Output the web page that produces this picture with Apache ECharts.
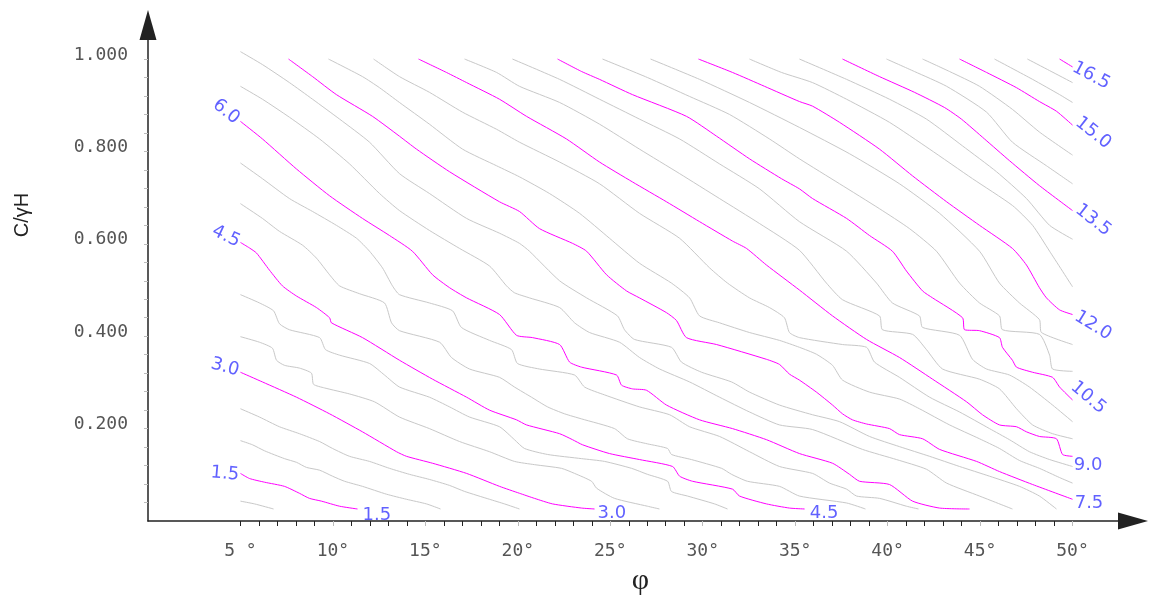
<!DOCTYPE html>
<html><head><meta charset="utf-8">
<script src="https://cdn.jsdelivr.net/npm/echarts@6/dist/echarts.min.js"></script>
<style>html,body{margin:0;padding:0;background:#fff}#c{width:1163px;height:601px}</style>
</head><body><div id="c"></div>
<script>
// contour levels (factor of safety); every third one is highlighted
const levels = [1.0,1.5,2.0,2.5,3.0,3.5,4.0,4.5,5.0,5.5,6.0,6.5,7.0,7.5,8.0,8.5,9.0,9.5,10.0,10.5,11.0,11.5,12.0,12.5,13.0,13.5,14.0,14.5,15.0,15.5,16.0,16.5];
// each contour: [phi (deg), c/gammaH]
const c1_0 = [[5.0,0.043],[5.76,0.037],[6.79,0.026]];
const c1_5 = [[5.0,0.103],[5.49,0.092],[6.30,0.084],[7.38,0.075],[8.19,0.060],[8.73,0.049],[9.38,0.043],[10.36,0.032],[11.33,0.026]];
const c2_0 = [[5.0,0.174],[5.65,0.165],[6.30,0.152],[7.38,0.135],[8.03,0.127],[8.57,0.116],[9.28,0.110],[9.98,0.097],[10.63,0.086],[11.60,0.075],[12.90,0.058],[13.98,0.047],[15.06,0.037],[15.82,0.026]];
const c2_5 = [[5.0,0.243],[6.03,0.225],[7.11,0.204],[8.19,0.189],[9.28,0.172],[9.98,0.157],[10.90,0.140],[11.98,0.129],[13.06,0.114],[14.14,0.101],[15.22,0.090],[16.31,0.077],[17.12,0.064],[18.47,0.047],[19.28,0.037],[20.09,0.026]];
const c3_0 = [[5.0,0.322],[6.19,0.301],[8.03,0.268],[9.82,0.232],[11.60,0.193],[13.44,0.150],[13.98,0.140],[15.39,0.125],[17.23,0.103],[19.01,0.075],[20.09,0.060],[20.90,0.049],[21.88,0.037],[23.45,0.028],[24.15,0.026]];
const c3_5 = [[5.0,0.399],[6.03,0.387],[6.73,0.374],[6.95,0.348],[7.38,0.337],[8.19,0.331],[8.84,0.320],[8.95,0.296],[9.55,0.288],[10.90,0.275],[12.25,0.258],[13.60,0.225],[15.22,0.200],[16.85,0.172],[18.47,0.150],[19.82,0.129],[20.90,0.122],[22.36,0.114],[23.07,0.103],[23.99,0.086],[24.26,0.071],[25.23,0.049],[27.01,0.032],[27.66,0.026]];
const c4_0 = [[5.0,0.490],[6.03,0.472],[6.79,0.455],[7.11,0.427],[7.65,0.414],[9.28,0.397],[9.60,0.371],[10.36,0.359],[11.98,0.341],[12.79,0.316],[13.60,0.290],[15.22,0.268],[16.31,0.247],[17.39,0.225],[19.01,0.204],[19.82,0.176],[20.36,0.157],[21.61,0.144],[23.45,0.135],[24.69,0.129],[26.15,0.114],[27.01,0.101],[28.10,0.086],[28.31,0.064],[29.18,0.054],[30.64,0.037],[31.34,0.026]];
const c4_5 = [[5.0,0.603],[5.49,0.591],[5.87,0.580],[6.57,0.543],[7.27,0.509],[8.03,0.487],[9.11,0.462],[9.82,0.440],[9.92,0.429],[11.60,0.397],[13.60,0.348],[15.39,0.307],[17.23,0.268],[18.47,0.240],[19.93,0.219],[20.47,0.208],[22.26,0.189],[22.96,0.176],[23.50,0.165],[24.96,0.146],[26.58,0.133],[28.37,0.118],[28.75,0.097],[29.45,0.086],[31.61,0.069],[31.99,0.054],[33.45,0.037],[34.69,0.028],[35.51,0.026]];
const c5_0 = [[5.0,0.687],[6.19,0.655],[7.11,0.627],[8.36,0.597],[9.11,0.569],[9.82,0.533],[10.36,0.509],[11.44,0.492],[12.79,0.472],[13.17,0.429],[13.60,0.412],[15.77,0.387],[16.41,0.354],[17.39,0.329],[19.01,0.311],[19.82,0.290],[20.74,0.268],[21.61,0.247],[22.53,0.232],[23.45,0.221],[25.23,0.200],[25.93,0.178],[27.01,0.167],[28.10,0.157],[28.31,0.144],[29.39,0.133],[31.02,0.114],[31.56,0.101],[32.42,0.086],[34.15,0.075],[35.23,0.054],[37.78,0.039],[38.80,0.026]];
const c5_5 = [[5.0,0.775],[6.19,0.741],[7.65,0.698],[8.90,0.670],[10.19,0.640],[11.28,0.612],[11.98,0.584],[12.68,0.548],[13.22,0.509],[13.60,0.490],[15.22,0.472],[16.47,0.455],[16.95,0.419],[18.47,0.391],[19.66,0.371],[19.98,0.341],[21.17,0.329],[23.07,0.316],[23.61,0.290],[24.69,0.273],[26.58,0.247],[28.21,0.230],[29.29,0.204],[30.91,0.183],[32.53,0.150],[34.15,0.118],[35.94,0.103],[36.86,0.082],[37.78,0.069],[38.32,0.054],[39.56,0.049],[41.02,0.032],[41.67,0.026]];
const c6_0 = [[5.0,0.865],[6.19,0.827],[8.03,0.762],[9.82,0.704],[11.60,0.655],[13.06,0.618],[14.30,0.584],[15.39,0.533],[16.31,0.505],[17.23,0.483],[19.01,0.447],[19.93,0.402],[20.79,0.397],[22.26,0.382],[22.80,0.344],[23.45,0.333],[25.34,0.316],[25.61,0.294],[26.20,0.286],[26.96,0.283],[28.04,0.251],[29.83,0.219],[31.61,0.200],[33.45,0.176],[35.23,0.146],[37.02,0.125],[37.94,0.101],[38.48,0.086],[40.10,0.079],[41.35,0.043],[42.81,0.028],[44.43,0.026]];
const c6_5 = [[5.0,0.941],[6.19,0.913],[7.65,0.874],[9.28,0.827],[10.90,0.773],[12.52,0.709],[13.60,0.672],[15.22,0.629],[16.85,0.590],[18.47,0.552],[19.39,0.509],[19.82,0.494],[20.63,0.483],[22.26,0.462],[23.07,0.429],[23.88,0.408],[25.50,0.387],[26.58,0.354],[27.67,0.329],[29.29,0.301],[30.91,0.268],[32.53,0.236],[34.15,0.208],[35.94,0.198],[38.64,0.155],[40.48,0.133],[42.10,0.112],[43.19,0.082],[44.97,0.054],[46.75,0.026]];
const c7_0 = [[5.0,1.016],[6.19,0.988],[7.65,0.949],[8.90,0.913],[10.36,0.870],[11.98,0.820],[13.60,0.752],[15.22,0.709],[17.23,0.655],[19.01,0.623],[20.09,0.601],[20.63,0.584],[22.26,0.520],[23.72,0.483],[25.39,0.444],[25.77,0.414],[26.31,0.393],[28.31,0.376],[28.85,0.344],[29.94,0.322],[31.56,0.301],[32.53,0.279],[34.15,0.251],[35.94,0.230],[37.40,0.215],[39.02,0.183],[40.64,0.161],[42.27,0.140],[43.89,0.118],[45.51,0.097],[47.13,0.075],[48.21,0.054],[49.13,0.026]];
const c7_5 = [[7.60,1.0],[8.90,0.962],[10.19,0.923],[12.14,0.876],[13.60,0.833],[14.52,0.805],[16.31,0.756],[19.01,0.691],[20.09,0.670],[21.17,0.633],[22.96,0.601],[23.72,0.584],[24.80,0.533],[25.88,0.498],[26.58,0.483],[28.04,0.451],[28.58,0.434],[29.12,0.397],[30.75,0.382],[33.45,0.350],[34.15,0.339],[34.69,0.318],[35.23,0.305],[36.15,0.279],[37.02,0.251],[37.56,0.232],[38.10,0.219],[38.86,0.210],[40.10,0.200],[40.64,0.187],[41.89,0.178],[42.81,0.155],[44.81,0.129],[46.05,0.107],[47.84,0.079],[50.0,0.047]];
const c8_0 = [[9.76,1.0],[11.60,0.962],[12.52,0.938],[13.60,0.906],[15.22,0.859],[17.01,0.805],[18.85,0.769],[20.09,0.745],[21.71,0.709],[23.34,0.666],[24.96,0.612],[26.58,0.558],[28.31,0.515],[29.29,0.483],[29.83,0.444],[30.91,0.429],[32.53,0.408],[34.15,0.391],[35.23,0.376],[36.15,0.361],[37.02,0.337],[37.56,0.305],[39.02,0.279],[40.64,0.264],[41.72,0.243],[43.35,0.208],[44.97,0.178],[46.05,0.157],[47.13,0.131],[48.21,0.114],[49.30,0.094],[50.0,0.082]];
const c8_5 = [[12.20,1.0],[13.60,0.962],[15.22,0.928],[17.01,0.885],[18.85,0.848],[20.09,0.820],[22.26,0.777],[24.42,0.730],[26.58,0.666],[28.75,0.612],[30.37,0.548],[31.34,0.515],[32.53,0.483],[33.61,0.462],[34.42,0.440],[34.69,0.408],[35.23,0.397],[37.56,0.382],[38.86,0.376],[39.29,0.344],[40.64,0.311],[42.27,0.268],[43.89,0.236],[45.51,0.200],[46.59,0.176],[47.67,0.150],[48.76,0.133],[50.0,0.118]];
const c9_0 = [[14.63,1.0],[16.14,0.971],[17.23,0.949],[19.01,0.913],[20.47,0.876],[22.63,0.827],[24.42,0.777],[26.20,0.734],[28.04,0.691],[29.83,0.648],[31.61,0.606],[32.37,0.590],[33.45,0.554],[35.23,0.500],[37.02,0.444],[38.86,0.393],[40.64,0.354],[42.43,0.307],[44.27,0.258],[45.13,0.230],[46.05,0.208],[46.97,0.204],[47.51,0.193],[48.21,0.183],[49.13,0.178],[49.46,0.144],[50.0,0.140]];
const c9_5 = [[17.12,1.0],[18.85,0.971],[20.09,0.941],[22.26,0.906],[24.42,0.859],[26.58,0.805],[28.75,0.752],[30.91,0.698],[33.07,0.644],[35.23,0.586],[36.69,0.515],[37.56,0.479],[39.56,0.444],[39.72,0.414],[41.35,0.404],[42.10,0.371],[42.97,0.329],[44.97,0.307],[46.05,0.286],[46.97,0.243],[47.84,0.208],[48.92,0.189],[50.0,0.178]];
const c10_0 = [[19.71,1.0],[22.26,0.956],[24.42,0.913],[26.58,0.870],[28.75,0.827],[30.91,0.773],[33.07,0.719],[35.23,0.648],[37.78,0.584],[39.40,0.515],[40.26,0.472],[41.72,0.444],[41.89,0.419],[43.89,0.402],[44.59,0.350],[45.35,0.329],[46.59,0.316],[47.67,0.290],[48.92,0.251],[50.0,0.215]];
const c10_5 = [[22.15,1.0],[23.45,0.973],[24.42,0.956],[26.20,0.923],[29.12,0.876],[30.75,0.833],[32.53,0.784],[34.26,0.741],[35.23,0.719],[35.94,0.698],[37.78,0.655],[39.02,0.618],[40.26,0.584],[41.02,0.541],[41.89,0.498],[42.43,0.483],[44.05,0.440],[44.16,0.414],[44.97,0.412],[46.05,0.397],[46.21,0.376],[46.75,0.348],[46.97,0.333],[47.84,0.322],[48.92,0.311],[49.30,0.290],[50.0,0.262]];
const c11_0 = [[24.58,1.0],[27.01,0.960],[29.29,0.919],[31.45,0.880],[33.61,0.827],[35.23,0.784],[37.40,0.730],[39.56,0.676],[41.18,0.633],[42.64,0.584],[43.89,0.515],[44.97,0.472],[46.05,0.444],[46.21,0.414],[48.21,0.404],[48.76,0.359],[48.92,0.329],[50.0,0.324]];
const c11_5 = [[27.18,1.0],[29.83,0.956],[32.53,0.906],[35.23,0.852],[37.94,0.795],[40.64,0.730],[42.81,0.666],[44.97,0.584],[46.05,0.515],[47.13,0.472],[48.21,0.436],[48.32,0.408],[50.0,0.382]];
const c12_0 = [[29.77,1.0],[31.61,0.971],[33.34,0.941],[35.23,0.908],[35.94,0.898],[37.40,0.863],[39.56,0.805],[41.35,0.747],[43.19,0.691],[44.97,0.640],[46.75,0.590],[47.51,0.554],[48.21,0.505],[48.59,0.483],[49.30,0.457],[50.0,0.447]];
const c12_5 = [[32.53,1.0],[34.26,0.971],[35.94,0.949],[37.78,0.913],[40.10,0.863],[42.27,0.805],[44.59,0.741],[46.75,0.683],[47.84,0.640],[48.76,0.584],[50.0,0.507]];
const c13_0 = [[35.23,1.0],[37.78,0.956],[40.10,0.913],[42.10,0.870],[44.05,0.812],[45.89,0.756],[47.51,0.698],[48.76,0.640],[50.0,0.610]];
const c13_5 = [[37.56,1.0],[39.56,0.962],[41.45,0.928],[43.08,0.895],[43.99,0.870],[45.24,0.827],[46.59,0.780],[48.21,0.726],[50.0,0.672]];
const c14_0 = [[39.94,1.0],[41.45,0.973],[43.19,0.941],[45.35,0.885],[46.75,0.820],[48.59,0.769],[50.0,0.730]];
const c14_5 = [[41.89,1.0],[43.35,0.973],[44.97,0.941],[46.75,0.891],[48.21,0.842],[50.0,0.792]];
const c15_0 = [[43.89,1.0],[45.35,0.971],[46.97,0.938],[48.21,0.908],[49.13,0.887],[50.0,0.857]];
const c15_5 = [[45.78,1.0],[47.84,0.956],[49.30,0.923],[50.0,0.906]];
const c16_0 = [[47.56,1.0],[48.76,0.975],[50.0,0.949]];
const c16_5 = [[49.30,1.0],[50.0,0.983]];
const contours = [c1_0,c1_5,c2_0,c2_5,c3_0,c3_5,c4_0,c4_5,c5_0,c5_5,c6_0,c6_5,c7_0,c7_5,c8_0,c8_5,c9_0,c9_5,c10_0,c10_5,c11_0,c11_5,c12_0,c12_5,c13_0,c13_5,c14_0,c14_5,c15_0,c15_5,c16_0,c16_5];

// contour labels
const labelText = ['6.0','4.5','3.0','1.5','1.5','3.0','4.5','7.5','9.0','10.5','12.0','13.5','15.0','16.5'];
const labelAnchor = [[4.22,0.886],[4.22,0.616],[4.16,0.333],[4.16,0.102],[12.38,0.012],[25.09,0.017],[36.56,0.017],[50.89,0.039],[50.84,0.121],[50.85,0.267],[51.11,0.423],[51.11,0.651],[51.11,0.840],[51.0,0.964]];
const labelAngle = [-38,-25,-15,-5,0,0,0,0,0,-40,-32,-38,-38,-28];

// axis ticks / labels
const xTickValues = [5,10,15,20,25,30,35,40,45,50];
const xTickLabels = ['5 °','10°','15°','20°','25°','30°','35°','40°','45°','50°'];
const yLabelValues = [0.2,0.4,0.6,0.8,1.0];

const X_MAX = 53.27, Y_MAX = 1.0737;
const tickFont = 'DejaVu Sans Mono';
const xBlackTicks = []; for (let v = 5; v <= 50; v++) if (v === 5 || v % 5 !== 0) xBlackTicks.push(v);
const xGrayTicks = xTickValues.filter(v => v !== 5);
const yTicks = []; for (let i = 1; i <= 25; i++) yTicks.push(+(i * 0.04).toFixed(2));

const series = contours.map((d, i) => {
  const major = Math.abs(levels[i] / 1.5 - Math.round(levels[i] / 1.5)) < 1e-6;
  return {
    type: 'line', name: String(levels[i]), data: d, symbol: 'none', showSymbol: false, smooth: 0.2,
    lineStyle: { width: 1, color: major ? '#ff00ff' : '#c8c8c8' },
    silent: true, z: major ? 3 : 2, animation: false
  };
});
series.push({
  type: 'scatter', symbolSize: 1, itemStyle: { color: 'rgba(0,0,0,0)' }, silent: true, z: 5,
  data: labelText.map((t, i) => ({ name: t, value: labelAnchor[i], label: { rotate: labelAngle[i] } })),
  label: { show: true, position: 'inside', formatter: '{b}', color: '#3a3aff', fontFamily: 'DejaVu Sans', fontSize: 18 }
});

const chart = echarts.init(document.getElementById('c'));
chart.setOption({
  animation: false,
  backgroundColor: '#fff',
  grid: { left: 148, right: 30, top: 25, bottom: 76 },
  xAxis: [{
    type: 'value', min: 0, max: X_MAX,
    axisLine: { show: true, onZero: false, symbol: ['none', 'triangle'], symbolSize: [17, 30], lineStyle: { color: '#222', width: 1.5 } },
    axisTick: { show: true, customValues: xBlackTicks, length: 5, lineStyle: { color: '#222' } },
    axisLabel: { show: true, customValues: xTickValues, formatter: v => xTickLabels[xTickValues.indexOf(Math.round(v))], margin: 21, color: '#555', fontFamily: tickFont, fontSize: 18 },
    splitLine: { show: false },
    name: 'φ', nameLocation: 'middle', nameGap: 45,
    nameTextStyle: { fontFamily: 'Liberation Serif', fontSize: 30, color: '#222' }
  }, {
    type: 'value', min: 0, max: X_MAX, position: 'bottom',
    axisLine: { show: false, onZero: false },
    axisTick: { show: true, customValues: xGrayTicks, length: 5, lineStyle: { color: '#bbb' } },
    axisLabel: { show: false }, splitLine: { show: false }
  }],
  yAxis: {
    type: 'value', min: 0, max: Y_MAX,
    axisLine: { show: true, onZero: false, symbol: ['none', 'triangle'], symbolSize: [17, 30], lineStyle: { color: '#222', width: 1.5 } },
    axisTick: { show: true, customValues: yTicks, length: 4, lineStyle: { color: '#bbb' } },
    axisLabel: { customValues: yLabelValues, formatter: v => v.toFixed(3), margin: 20, verticalAlign: 'bottom', lineHeight: 8, color: '#555', fontFamily: tickFont, fontSize: 18 },
    splitLine: { show: false },
    name: 'C/γH', nameLocation: 'middle', nameRotate: 90, nameGap: 116,
    nameTextStyle: { fontFamily: 'Liberation Sans', fontSize: 20, color: '#222', padding: [0, 0, 0, 116] }
  },
  series: series
});
</script>
</body></html>
